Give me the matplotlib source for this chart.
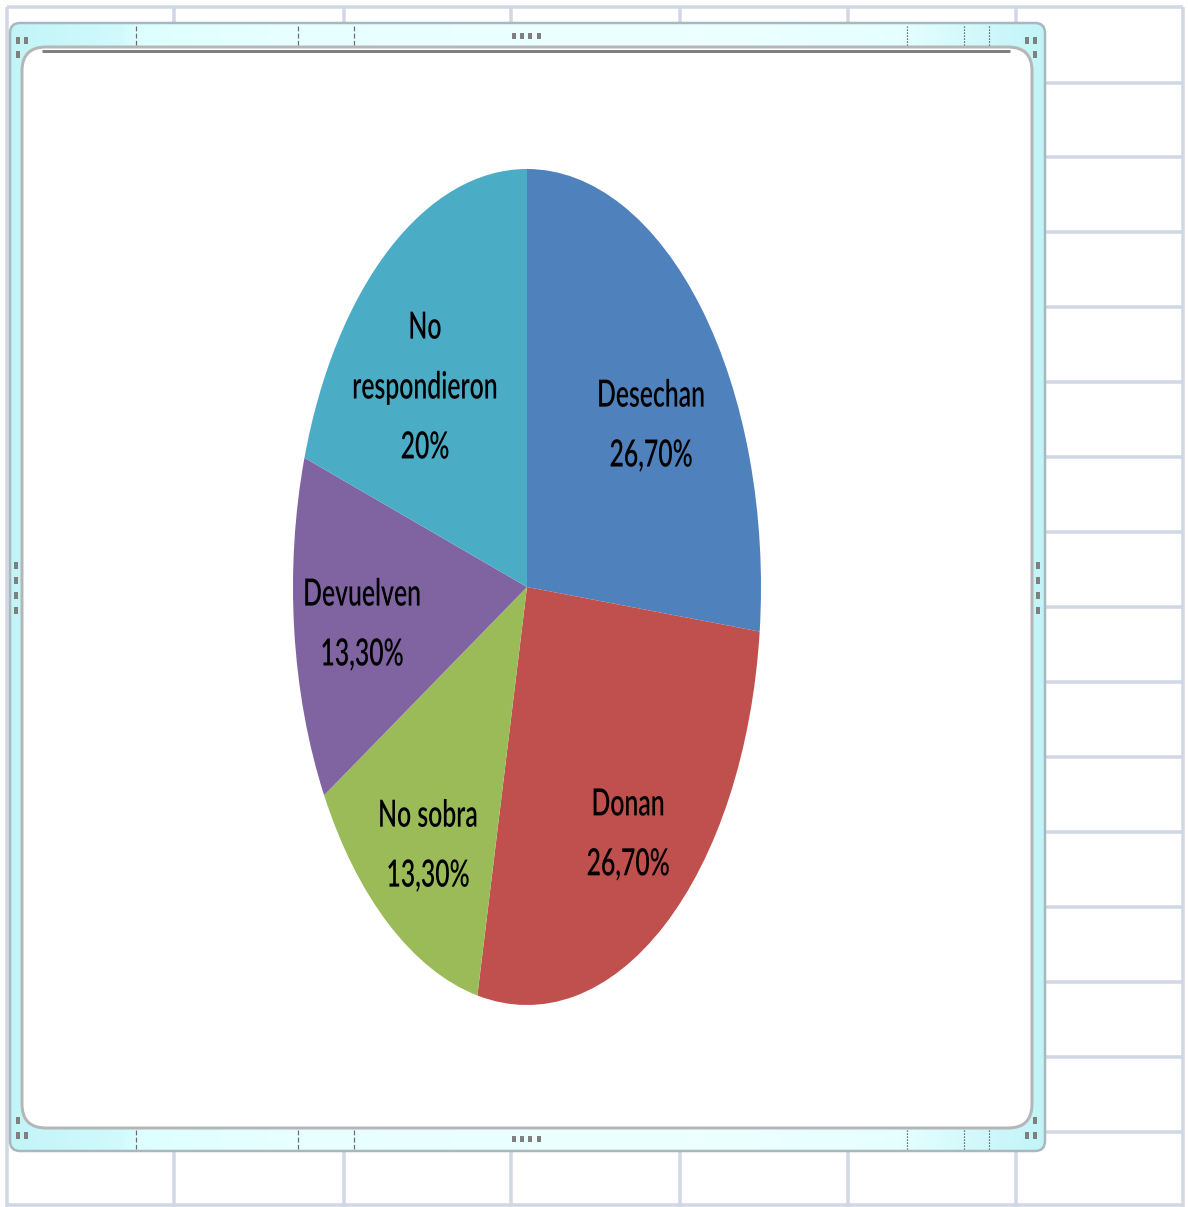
import numpy as np
import matplotlib.pyplot as plt
from matplotlib.patches import FancyBboxPatch, Rectangle
from matplotlib.patheffects import AbstractPathEffect
from matplotlib.transforms import Affine2D

W, H = 1188, 1207
PT = 0.72  # points per pixel at dpi 100

# pie data
labels = ['Desechan', 'Donan', 'No sobra', 'Devuelven', 'No\nrespondieron']
values = [26.7, 26.7, 13.3, 13.3, 20.0]
pct_text = ['26,70%', '26,70%', '13,30%', '13,30%', '20%']
colors = ['#4F81BD', '#C0504D', '#9BBB59', '#8064A2', '#4BACC6']

# label centres in pie units
label_xy = [(0.53, 0.385), (0.432, -0.593), (-0.423, -0.62), (-0.705, -0.091), (-0.436, 0.476)]

# sheet grid
col_x = [7, 174, 344, 511, 680, 848, 1016, 1183]
row_y = [83, 157, 232, 307, 382, 457, 532, 607, 682, 757, 832, 907, 982, 1057, 1132]


class Squeeze(AbstractPathEffect):
    """Narrows glyphs horizontally around the text anchor."""

    def __init__(self, text, sx):
        super().__init__()
        self.text = text
        self.sx = sx

    def draw_path(self, renderer, gc, tpath, affine, rgbFace=None):
        cx = self.text.get_transform().transform(self.text.get_position())[0]
        t = affine + Affine2D().translate(-cx, 0).scale(self.sx, 1).translate(cx, 0)
        renderer.draw_path(gc, tpath, t, rgbFace)


fig = plt.figure(figsize=(W / 100, H / 100), dpi=100)
bg = fig.add_axes([0, 0, 1, 1])
bg.set_xlim(0, W)
bg.set_ylim(H, 0)
bg.axis('off')

grid_c = '#D0D7E5'
bg.vlines(col_x, 7, H, colors=grid_c, lw=3.5 * PT, zorder=1)
bg.hlines(row_y, 1016, 1183, colors=grid_c, lw=3.5 * PT, zorder=1)
bg.hlines([7, 1205], 7, 1183, colors=grid_c, lw=3.5 * PT, zorder=1)

# chart frame with cyan band
frame = FancyBboxPatch((10, 23), 1035, 1128, boxstyle='round,pad=0,rounding_size=10',
                       fc='none', ec='none', zorder=2)
bg.add_patch(frame)
xs = np.linspace(10, 1045, 600)
stops_x = [10, 120, 140, 300, 700, 900, 990, 1045]
stops_c = np.array([[0.76, 0.96, 0.97], [0.82, 0.98, 0.99], [0.87, 1.0, 1.0], [0.91, 1.0, 1.0],
                    [0.93, 1.0, 1.0], [0.90, 1.0, 1.0], [0.81, 0.97, 0.98], [0.76, 0.96, 0.97]])
grad = np.stack([np.interp(xs, stops_x, stops_c[:, k]) for k in range(3)], axis=-1)[None, :, :]
im = bg.imshow(grad, extent=(10, 1045, 1151, 23), aspect='auto', zorder=2, interpolation='bilinear')
im.set_clip_path(frame)
bg.set_xlim(0, W)
bg.set_ylim(H, 0)
bg.add_patch(FancyBboxPatch((10, 23), 1035, 1128, boxstyle='round,pad=0,rounding_size=10',
                            fc='none', ec='#A8B8BE', lw=2.5 * PT, zorder=3))

# white plot area
bg.add_patch(FancyBboxPatch((22, 47), 1010, 1081, boxstyle='round,pad=0,rounding_size=24',
                            fc='white', ec='#B4B6B8', lw=3 * PT, zorder=3))
bg.plot([42, 1010], [51, 51], color='#808080', lw=3 * PT, solid_capstyle='butt', zorder=4)

# dashed marks in the band
for y0, y1 in [(26, 45), (1130, 1149)]:
    bg.vlines([136, 298, 354], y0, y1, colors='#6A6A6A', lw=1.2 * PT, linestyles=(0, (4, 2)), zorder=4)
    bg.vlines([907, 964, 989], y0, y1, colors='#404040', lw=1.2 * PT, linestyles=(0, (1, 1.5)), zorder=4)

# sizing handles
handles = [(16, 37, 4, 7), (24, 37, 4, 7), (16, 51, 4, 7),
           (1025, 37, 4, 7), (1033, 37, 4, 7), (1033, 51, 4, 7),
           (16, 1117, 4, 7), (16, 1132, 4, 7), (24, 1132, 4, 7),
           (1033, 1117, 4, 7), (1025, 1132, 4, 7), (1033, 1132, 4, 7)]
for hx in [512, 520, 528, 537]:
    handles += [(hx, 33, 4, 6), (hx, 1136, 4, 6)]
for hy in [562, 577, 592, 607]:
    handles += [(14, hy, 4, 7), (1036, hy, 4, 7)]
for hx, hy, hw, hh in handles:
    bg.add_patch(Rectangle((hx, hy), hw, hh, fc='#7F7F7F', ec='none', zorder=5))

# pie, stretched to the ellipse box
ax = fig.add_axes([293 / W, 1 - 1005 / H, 468 / W, 836 / H])
ax.pie(values, colors=colors, startangle=90, counterclock=False,
       wedgeprops=dict(linewidth=0))
ax.set_aspect('auto')
ax.set_xlim(-1, 1)
ax.set_ylim(-1, 1)
ax.patch.set_visible(False)

for (lx, ly), lab, pct in zip(label_xy, labels, pct_text):
    t = ax.text(lx, ly, f'{lab}\n{pct}', ha='center', va='center', multialignment='center',
                fontsize=27, fontweight='semibold', color='black', linespacing=1.89,
                family=['Lato', 'DejaVu Sans'])
    t.set_path_effects([Squeeze(t, 0.66)])

fig.savefig('out.png', dpi=100)
